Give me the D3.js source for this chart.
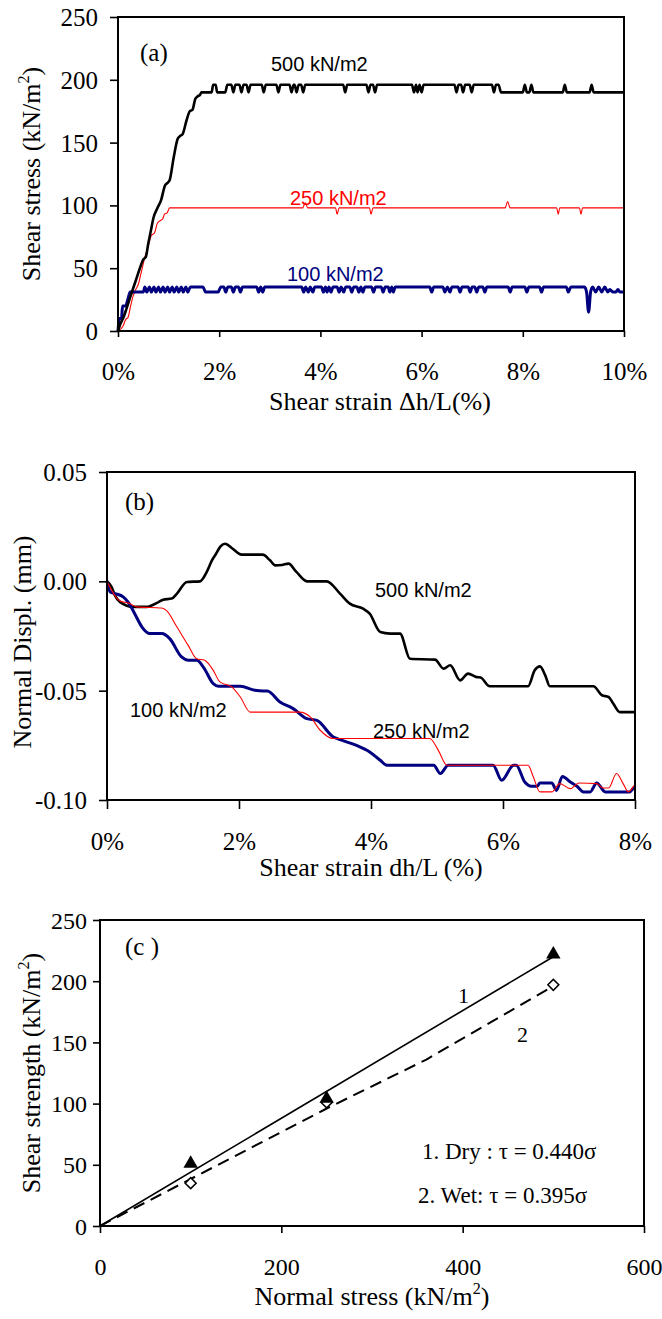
<!DOCTYPE html>
<html><head><meta charset="utf-8">
<script src="https://cdn.jsdelivr.net/npm/d3@7"></script>
<style>body{margin:0;background:#fff} svg{display:block}</style>
</head><body><svg id="c" width="662" height="1319"></svg>
<script>
// ---------- DATA ----------
// Panel (a): shear strain (%) vs shear stress (kN/m2)
const aTicksX = [0, 2, 4, 6, 8, 10];
const aTicksY = [0, 50, 100, 150, 200, 250];
const a500 = [[0,0],[0.05,6],[0.1,10],[0.17,18],[0.25,28],[0.35,40],[0.45,52],[0.5,57],[0.55,59],[0.6,70],[0.65,80],[0.7,90],[0.78,98],[0.85,104],[0.93,116],[0.98,118],[1.02,120],[1.1,138],[1.18,153],[1.22,155],[1.28,157],[1.35,167],[1.42,175],[1.47,176],[1.53,185],[1.58,187],[1.62,188],[1.65,190],
[1.85,190],[1.88,196],[1.93,196],[1.96,190],[2.12,190],[2.16,196],[2.24,196],[2.28,190],[2.32,196],[2.4,196],[2.44,190],[2.48,196],[2.54,196],[2.58,190],[2.62,196],[2.84,196],[2.88,190],[2.92,196],[3.13,196],[3.17,190],[3.21,196],[3.39,196],[3.43,190],[3.47,196],[3.49,196],[3.53,190],[3.57,196],[3.62,196],[3.66,190],[3.7,196],[4.45,196],[4.49,190],[4.53,196],[4.91,196],[4.95,190],[4.99,196],[5.04,196],[5.08,190],[5.12,196],[5.81,196],[5.85,190],[5.89,196],[5.92,190],[5.96,196],[6.0,190],[6.04,196],[6.65,196],[6.69,190],[6.73,196],[6.78,196],[6.82,190],[6.86,196],[6.95,196],[6.99,190],[7.03,196],[7.39,196],[7.43,190],[7.47,196],[7.52,196],[7.57,190],[8.0,190],[8.04,196],[8.08,190],[8.13,190],[8.17,196],[8.21,190],[8.79,190],[8.83,196],[8.87,190],[9.32,190],[9.36,196],[9.4,190],[10,190]];
const a250 = [[0,0],[0.1,4],[0.15,9],[0.2,11],[0.25,20],[0.3,28],[0.35,33],[0.4,37],[0.45,45],[0.52,57],[0.6,68],[0.66,76],[0.72,78],[0.78,86],[0.84,88],[0.88,89],[0.92,93],[0.97,94],[1.02,98],[3.65,98],[3.7,102],[3.75,98],[4.3,98],[4.33,93],[4.37,98],[4.97,98],[5.0,93],[5.04,98],[7.65,98],[7.7,103],[7.75,98],[8.67,98],[8.7,93],[8.73,98],[9.12,98],[9.15,93],[9.18,98],[10,98]];
const a100 = [[0,0],[0.03,10],[0.07,10],[0.09,20],[0.15,20],[0.2,26],[0.24,31],[0.5,31],
[0.53,35],[0.57,31],[0.62,35],[0.66,31],[0.71,35],[0.75,31],[0.8,35],[0.84,31],[0.89,35],[0.93,31],[0.98,35],[1.02,31],[1.07,35],[1.11,31],[1.16,35],[1.2,31],[1.25,35],[1.29,31],[1.34,35],[1.38,31],[1.43,35],[1.68,35],[1.73,31],[1.98,31],[2.03,35],
[2.09,35],[2.13,31],[2.17,35],[2.24,35],[2.28,31],[2.32,35],[2.38,35],[2.42,31],[2.46,35],
[2.74,35],[2.78,31],[2.82,35],[2.86,31],[2.9,35],
[3.63,35],[3.67,31],[3.71,35],[3.76,31],[3.8,35],[3.85,31],[3.89,35],[4.02,35],[4.06,31],[4.1,35],[4.13,31],[4.17,35],[4.21,31],[4.25,35],[4.33,35],[4.37,31],[4.41,35],[4.46,31],[4.5,35],[4.58,35],[4.62,31],[4.66,35],[4.72,35],[4.76,31],[4.8,35],[4.84,31],[4.88,35],
[5.01,35],[5.05,31],[5.09,35],[5.2,35],[5.24,31],[5.28,35],[5.34,35],[5.37,31],[5.41,35],[5.44,31],[5.48,35],
[6.16,35],[6.2,31],[6.24,35],[6.42,35],[6.46,31],[6.51,35],[6.56,31],[6.6,35],[6.72,35],[6.76,31],[6.8,35],[6.92,35],[6.96,31],[7.0,35],[7.05,35],[7.09,31],[7.13,35],[7.21,35],[7.25,31],[7.29,35],
[7.71,35],[7.75,31],[7.79,35],[8.04,35],[8.08,31],[8.12,35],[8.33,35],[8.37,31],[8.41,35],
[8.86,35],[8.9,31],[8.95,35],[9.22,35],[9.26,31],[9.3,15],[9.34,31],[9.38,35],[9.44,31],[9.5,35],[9.56,31],[9.62,35],[9.68,31],[9.72,33],[9.78,31],[9.84,31],[9.88,33],[9.92,31],[10,31]];

// Panel (b): shear strain (%) vs normal displacement (mm)
const bTicksX = [0, 2, 4, 6, 8];
const bTicksY = [-0.10, -0.05, 0.00, 0.05];
const b500 = [[0,0],[0.07,-0.0026],[0.12,-0.0064],[0.2,-0.0095],[0.4,-0.0117],[0.6,-0.0117],[0.78,-0.0095],[0.85,-0.0084],[0.98,-0.0079],[1.06,-0.0056],[1.21,-0.0003],[1.41,0],[1.51,0.0042],[1.59,0.0096],[1.65,0.0125],[1.72,0.016],[1.79,0.0172],[1.9,0.015],[2.04,0.0122],[2.36,0.0122],[2.47,0.0096],[2.55,0.0073],[2.65,0.0075],[2.75,0.0081],[2.87,0.0043],[3.03,0],[3.33,0],[3.53,-0.0056],[3.68,-0.0102],[3.88,-0.0125],[3.98,-0.0148],[4.14,-0.0232],[4.29,-0.0239],[4.44,-0.0239],[4.59,-0.0354],[4.97,-0.0358],[5.1,-0.0399],[5.2,-0.0384],[5.35,-0.0453],[5.47,-0.0422],[5.6,-0.0438],[5.66,-0.044],[5.8,-0.048],[6.38,-0.048],[6.48,-0.0407],[6.56,-0.0389],[6.64,-0.043],[6.71,-0.048],[7.37,-0.048],[7.5,-0.0521],[7.6,-0.0529],[7.67,-0.0559],[7.77,-0.0598],[8,-0.0598]];
const b250 = [[0,0],[0.1,-0.0056],[0.17,-0.0084],[0.2,-0.009],[0.35,-0.0102],[0.45,-0.0117],[0.83,-0.0122],[0.9,-0.0133],[1.06,-0.0209],[1.23,-0.0293],[1.36,-0.0354],[1.48,-0.0361],[1.61,-0.0407],[1.71,-0.046],[1.89,-0.0483],[2.02,-0.0529],[2.17,-0.0598],[2.92,-0.0598],[3.08,-0.062],[3.23,-0.0681],[3.43,-0.0719],[4.89,-0.0719],[5.02,-0.0773],[5.15,-0.0841],[6.38,-0.0841],[6.46,-0.0895],[6.56,-0.0963],[6.74,-0.0963],[6.86,-0.0925],[7.02,-0.0948],[7.15,-0.0922],[7.42,-0.0925],[7.52,-0.0945],[7.6,-0.0945],[7.72,-0.0879],[7.82,-0.0925],[7.9,-0.0963],[7.98,-0.0937],[8,-0.093]];
const b100 = [[0,0],[0.05,-0.0049],[0.12,-0.0056],[0.25,-0.0072],[0.32,-0.0095],[0.42,-0.0148],[0.53,-0.0209],[0.65,-0.0239],[0.83,-0.0239],[0.95,-0.0262],[1.13,-0.0346],[1.23,-0.0361],[1.36,-0.0361],[1.46,-0.0392],[1.61,-0.0468],[1.69,-0.048],[2.02,-0.048],[2.24,-0.0498],[2.37,-0.0501],[2.43,-0.0501],[2.62,-0.0552],[2.82,-0.0582],[3.03,-0.0628],[3.18,-0.0636],[3.43,-0.0712],[3.53,-0.0724],[3.78,-0.075],[3.98,-0.078],[4.14,-0.0818],[4.24,-0.0841],[4.95,-0.0841],[5.05,-0.0879],[5.17,-0.0841],[5.85,-0.0841],[5.98,-0.091],[6.16,-0.0841],[6.2,-0.0841],[6.33,-0.0918],[6.43,-0.0937],[6.52,-0.0937],[6.56,-0.0922],[6.74,-0.0922],[6.81,-0.0956],[6.9,-0.0892],[7.02,-0.0918],[7.12,-0.0937],[7.22,-0.0963],[7.32,-0.0963],[7.42,-0.0922],[7.55,-0.0963],[7.92,-0.0963],[7.98,-0.0945],[8,-0.094]];

// Panel (c): normal stress vs shear strength (kN/m2)
const cTicksX = [0, 200, 400, 600];
const cTicksY = [0, 50, 100, 150, 200, 250];
const dryPts = [[100,51],[250,104],[500,222]];
const wetPts = [[100,35],[250,101],[500,197]];
const dryLine = [[0,0],[500,220]];
const wetLine = [[0,0],[250,96],[360,136],[500,196]];

// ---------- DRAW ----------
const svg = d3.select('#c');
svg.append('rect').attr('width',662).attr('height',1319).attr('fill','#fff');
const SERIF = "'Liberation Serif','Times New Roman',serif";
const SANS = "'Liberation Sans',Arial,sans-serif";
const NAVY = '#000080';

function panel(cfg){
  const g = svg.append('g');
  const x = d3.scaleLinear().domain(cfg.xd).range(cfg.xr);
  const y = d3.scaleLinear().domain(cfg.yd).range(cfg.yr);
  const ax = g.append('g').attr('transform',`translate(0,${cfg.yr[0]})`)
    .call(d3.axisBottom(x).tickValues(cfg.xt).tickFormat(cfg.xf).tickSize(cfg.xts).tickSizeOuter(0));
  ax.select('.domain').remove();
  ax.selectAll('line').attr('stroke','#000').attr('stroke-width',1.6);
  ax.selectAll('text').attr('y',cfg.xlab).attr('dy',null).attr('font-family',SERIF).attr('font-size',cfg.tfs).attr('fill','#000');
  const ay = g.append('g').attr('transform',`translate(${cfg.xr[0]},0)`)
    .call(d3.axisLeft(y).tickValues(cfg.yt).tickFormat(cfg.yf).tickSize(cfg.yts).tickPadding(cfg.ypad).tickSizeOuter(0));
  ay.select('.domain').remove();
  ay.selectAll('line').attr('stroke','#000').attr('stroke-width',1.6);
  ay.selectAll('text').attr('font-family',SERIF).attr('font-size',cfg.tfs).attr('fill','#000').attr('dy','0.34em');
  const plot = g.append('g');
  g.append('rect').attr('x',cfg.xr[0]).attr('y',cfg.yr[1])
    .attr('width',cfg.xr[1]-cfg.xr[0]).attr('height',cfg.yr[0]-cfg.yr[1])
    .attr('fill','none').attr('stroke','#000').attr('stroke-width',2);
  return {g, plot, x, y};
}

function drawLine(p, data, color, w, curve, dash){
  const line = d3.line().x(d=>p.x(d[0])).y(d=>p.y(d[1])).curve(curve||d3.curveLinear);
  const path = p.plot.append('path').datum(data).attr('d',line).attr('fill','none')
    .attr('stroke',color).attr('stroke-width',w).attr('stroke-linejoin','round').attr('stroke-linecap','butt');
  if(dash) path.attr('stroke-dasharray',dash);
  return path;
}

function label(x, y, parts, o){
  const t = svg.append('text').attr('font-family',o.family||SERIF).attr('font-size',o.size)
    .attr('fill',o.color||'#000').attr('text-anchor',o.anchor||'start');
  if(o.rotate) t.attr('transform',`translate(${x},${y}) rotate(-90)`);
  else t.attr('x',x).attr('y',y);
  let shift = 0;
  parts.forEach(pt=>{
    const s = t.append('tspan').text(pt[0]);
    if(pt[1]){ s.attr('font-size',o.size*0.62).attr('dy',-o.size*0.42); shift = o.size*0.42; }
    else if(shift){ s.attr('dy',shift); shift = 0; }
  });
  return t;
}

// Panel (a)
const pa = panel({xd:[0,10], xr:[118,624], yd:[0,250], yr:[331,17],
  xt:aTicksX, xf:d=>d+'%', yt:aTicksY, yf:d=>d, xts:6, yts:8, ypad:12, xlab:49, tfs:25});
drawLine(pa, a250, '#ff0000', 1.1, d3.curveMonotoneX);
drawLine(pa, a100, NAVY, 3, d3.curveMonotoneX);
drawLine(pa, a500, '#000', 2.6, d3.curveMonotoneX);
label(140, 61, [['(a)']], {size:25});
label(271, 71, [['500 kN/m2']], {size:20, family:SANS});
label(290, 205, [['250 kN/m2']], {size:20, family:SANS, color:'#ff0000'});
label(287, 281, [['100 kN/m2']], {size:20, family:SANS, color:NAVY});
label(380, 410, [['Shear strain \u0394h/L(%)']], {size:26, anchor:'middle'});
label(40, 174, [['Shear stress (kN/m'],['2',1],[')']], {size:26, anchor:'middle', rotate:true});

// Panel (b)
const pb = panel({xd:[0,8], xr:[107,635], yd:[-0.10,0.05], yr:[800,472],
  xt:bTicksX, xf:d=>d+'%', yt:bTicksY, yf:d=>d.toFixed(2), xts:9, yts:8, ypad:12, xlab:50, tfs:25});
drawLine(pb, b500, '#000', 2.6, d3.curveMonotoneX);
drawLine(pb, b100, NAVY, 3, d3.curveMonotoneX);
drawLine(pb, b250, '#ff0000', 1.1, d3.curveMonotoneX);
label(125, 510, [['(b)']], {size:25});
label(375, 597, [['500 kN/m2']], {size:20, family:SANS});
label(130, 717, [['100 kN/m2']], {size:20, family:SANS});
label(373, 738, [['250 kN/m2']], {size:20, family:SANS});
label(371, 876, [['Shear strain dh/L (%)']], {size:26, anchor:'middle'});
label(31, 642, [['Normal Displ. (mm)']], {size:26, anchor:'middle', rotate:true});

// Panel (c)
const pc = panel({xd:[0,600], xr:[100,644], yd:[0,250], yr:[1226,920],
  xt:cTicksX, xf:d=>d, yt:cTicksY, yf:d=>d, xts:7, yts:7, ypad:6, xlab:49, tfs:24});
drawLine(pc, dryLine, '#000', 1.6);
drawLine(pc, wetLine, '#000', 2, d3.curveLinear, '12,7');
pc.plot.selectAll('path.dia').data(wetPts).join('path').attr('class','dia')
  .attr('transform',d=>`translate(${pc.x(d[0])},${pc.y(d[1])}) rotate(45)`)
  .attr('d',d3.symbol(d3.symbolSquare,60)).attr('fill','#fff').attr('stroke','#000').attr('stroke-width',1.5);
pc.plot.selectAll('path.tri').data(dryPts).join('path').attr('class','tri')
  .attr('transform',d=>`translate(${pc.x(d[0])},${pc.y(d[1])})`)
  .attr('d',d3.symbol(d3.symbolTriangle,90)).attr('fill','#000');
label(125, 955, [['(c )']], {size:25});
label(458, 1003, [['1']], {size:22});
label(517, 1042, [['2']], {size:22});
label(422, 1159, [['1. Dry : \u03c4 = 0.440\u03c3']], {size:23});
label(418, 1203, [['2. Wet: \u03c4 = 0.395\u03c3']], {size:23});
label(372, 1305, [['Normal stress (kN/m'],['2',1],[')']], {size:26, anchor:'middle'});
label(40, 1073, [['Shear strength (kN/m'],['2',1],[')']], {size:26, anchor:'middle', rotate:true});
</script></body></html>
